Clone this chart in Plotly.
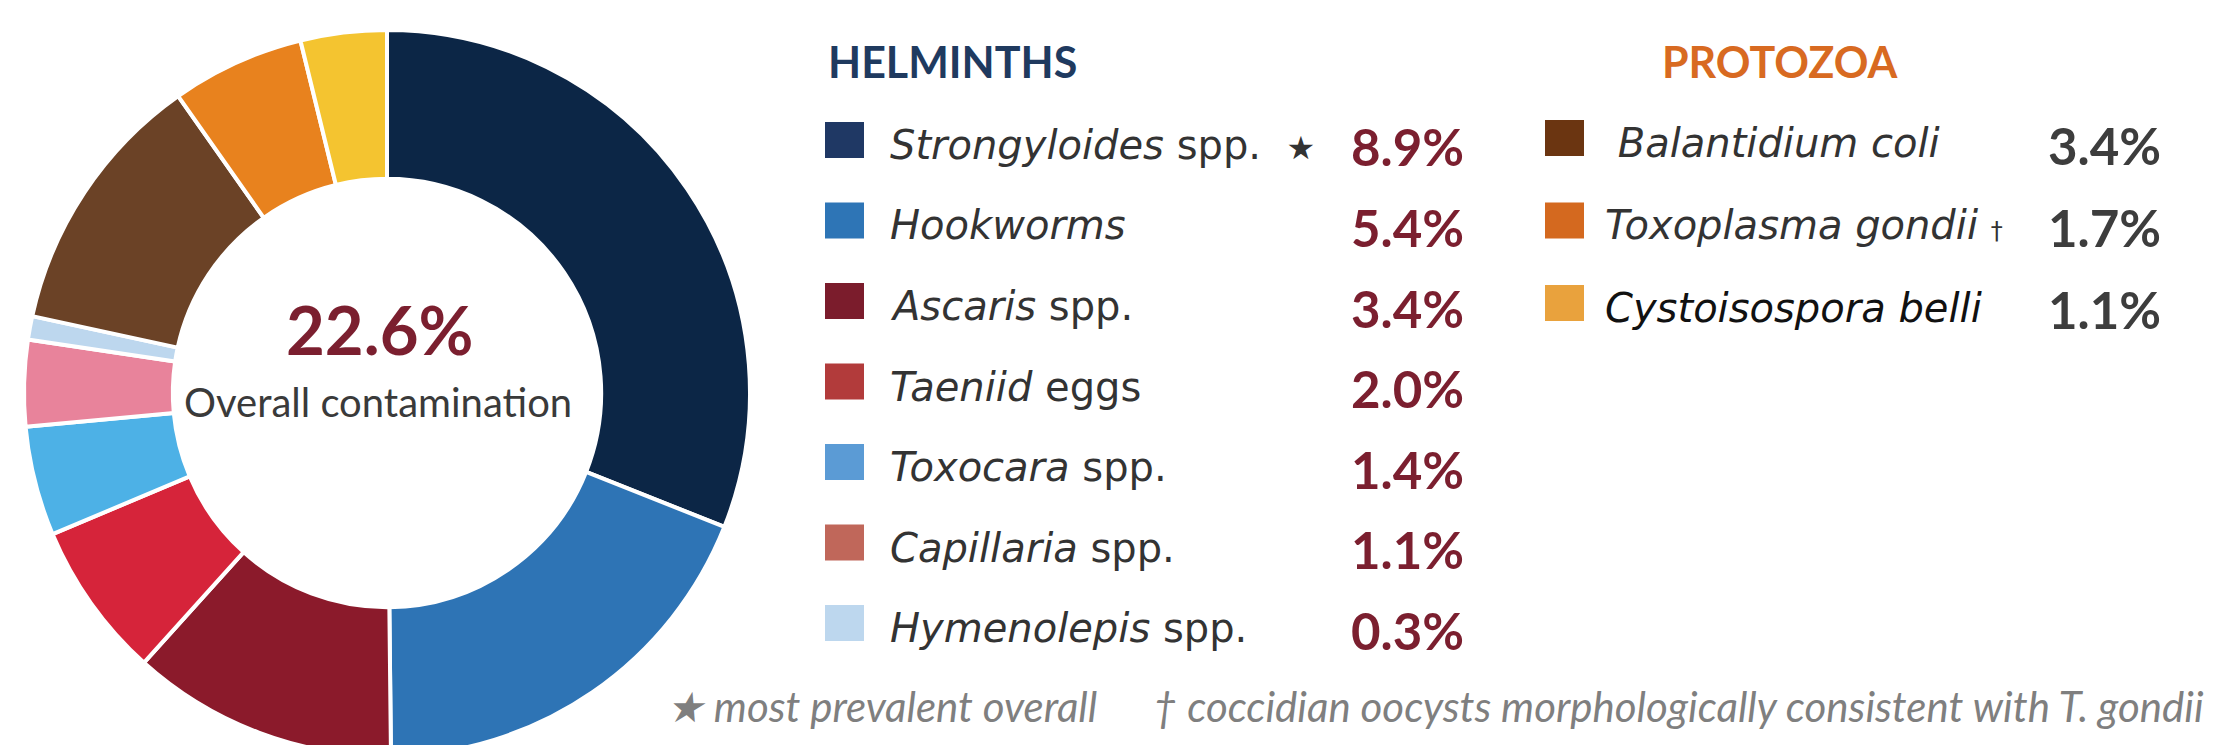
import plotly.graph_objects as go

# ---------------- data ----------------
categories = ["Strongyloides spp.", "Hookworms", "Ascaris spp.", "Taeniid eggs",
              "Toxocara spp.", "Capillaria spp.", "Hymenolepis spp.",
              "Balantidium coli", "Toxoplasma gondii", "Cystoisospora belli"]
prevalence = [8.9, 5.4, 3.4, 2.0, 1.4, 1.1, 0.3, 3.4, 1.7, 1.1]
groups = ["Helminths"] * 7 + ["Protozoa"] * 3
legend_labels = ["<i>Strongyloides</i> spp.", "<i>Hookworms</i>", "<i>Ascaris</i> spp.",
                 "<i>Taeniid</i> eggs", "<i>Toxocara</i> spp.", "<i>Capillaria</i> spp.",
                 "<i>Hymenolepis</i> spp.", "&nbsp;<i>Balantidium coli</i>",
                 "<i>Toxoplasma gondii</i>", "<i>Cystoisospora belli</i>"]
markers = ["★", "", "", "", "", "", "", "", "†", ""]
overall = 22.6
overall_label = "Overall contamination"
footnote_star = "★ most prevalent overall"
footnote_dagger = "† coccidian oocysts morphologically consistent with T. gondii"

# ---------------- styles ----------------
slice_colors = ["#0C2646", "#2E74B5", "#8B1A2B", "#D6243A", "#4DB1E6",
                "#E8839B", "#BDD7EE", "#6B4226", "#E8821E", "#F4C430"]
swatch_colors = ["#1F3864", "#2E75B6", "#7B1C2C", "#B23B3B", "#5B9BD5",
                 "#C0675A", "#BDD7EE", "#6B3511", "#D4691F", "#E9A23D"]

W, H = 2215, 756
def px(x):
    return x / W
def py(y):
    return 1 - y / H

CAL = "Lato, 'Open Sans', sans-serif"
ARI = "'DejaVu Sans', 'Liberation Sans', Arial, sans-serif"
MAROON = "#7B1F2F"

fig = go.Figure()
fig.add_trace(go.Pie(
    labels=categories, values=prevalence, sort=False, direction="clockwise",
    rotation=0, hole=0.59, textinfo="none", showlegend=False,
    marker=dict(colors=slice_colors, line=dict(color="white", width=4)),
    domain=dict(x=[px(24), px(750)], y=[0, py(30)]),
    hovertemplate="%{label}: %{value}%<extra></extra>",
))

annotations = []
shapes = []

# centre text
annotations.append(dict(x=px(379), y=py(329), text=f"<b>{overall:.1f}%</b>", showarrow=False,
                        xanchor="center", yanchor="middle",
                        font=dict(family=CAL, size=67, color=MAROON)))
annotations.append(dict(x=px(378), y=py(402), text=overall_label, showarrow=False,
                        xanchor="center", yanchor="middle",
                        font=dict(family=CAL, size=40, color="#3A3A3A")))

# group headers
annotations.append(dict(x=px(826), y=py(62), text="<b>HELMINTHS</b>", showarrow=False,
                        xanchor="left", yanchor="middle",
                        font=dict(family=CAL, size=43, color="#1F3A5F")))
annotations.append(dict(x=px(1660), y=py(62), text="<b>PROTOZOA</b>", showarrow=False,
                        xanchor="left", yanchor="middle",
                        font=dict(family=CAL, size=43, color="#D86A21")))

h_i = 0
p_i = 0
for i, (lab, val, grp) in enumerate(zip(legend_labels, prevalence, groups)):
    if grp == "Helminths":
        yc = 140 + 80.5 * h_i
        sx0, tx, pr = 825, 888, 1466
        pcol = MAROON
        tcol = "#333333"
        h_i += 1
    else:
        yc = 138 + 82.5 * p_i
        sx0, tx, pr = 1545, 1603, 2163
        pcol = "#3D3D3D"
        tcol = "#111111" if i == 9 else "#333333"
        p_i += 1
    shapes.append(dict(type="rect", xref="paper", yref="paper",
                       x0=px(sx0), x1=px(sx0 + 39), y0=py(yc + 18), y1=py(yc - 18),
                       fillcolor=swatch_colors[i], line=dict(width=0)))
    txt = lab
    if markers[i] == "★":
        txt += f"&nbsp;&nbsp;<span style='font-size:32px'>{markers[i]}</span>"
    elif markers[i]:
        txt += f"&nbsp;<span style='font-size:24px'>{markers[i]}</span>"
    annotations.append(dict(x=px(tx), y=py(yc + 5), text=txt, showarrow=False,
                            xanchor="left", yanchor="middle",
                            font=dict(family=ARI, size=40, color=tcol)))
    annotations.append(dict(x=px(pr), y=py(yc + 7), text=f"<b>{val:.1f}%</b>", showarrow=False,
                            xanchor="right", yanchor="middle",
                            font=dict(family=CAL, size=51, color=pcol)))

# footnotes
annotations.append(dict(x=px(664), y=py(706), text=f"<i>{footnote_star}</i>", showarrow=False,
                        xanchor="left", yanchor="middle",
                        font=dict(family=CAL, size=42, color="#7F7F7F")))
annotations.append(dict(x=px(2206), y=py(706), text=f"<i>{footnote_dagger}</i>", showarrow=False,
                        xanchor="right", yanchor="middle",
                        font=dict(family=CAL, size=42, color="#7F7F7F")))

fig.update_layout(
    width=W, height=H,
    margin=dict(l=0, r=0, t=0, b=0),
    paper_bgcolor="white", plot_bgcolor="white",
    annotations=annotations, shapes=shapes,
)

fig.write_html("out.html",
               config={"displayModeBar": False},
               post_script="document.body.style.margin='0';"
                           "document.documentElement.style.overflow='hidden';"
                           "document.body.style.overflow='hidden';")
